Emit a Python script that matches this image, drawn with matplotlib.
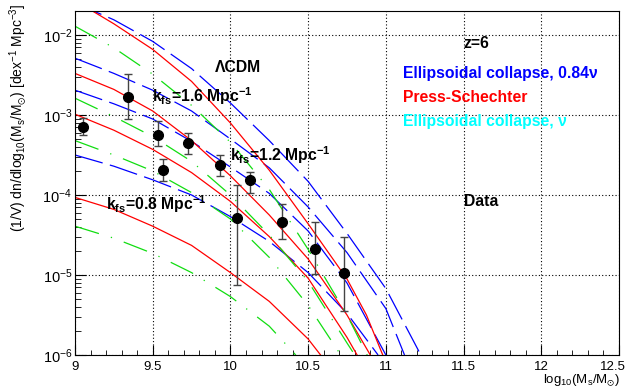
import numpy as np
import matplotlib
matplotlib.use("Agg")
import matplotlib.pyplot as plt
from matplotlib.ticker import LogLocator, NullFormatter, MultipleLocator, FixedLocator, FixedFormatter
from matplotlib.transforms import ScaledTranslation

plt.rcParams['font.family'] = ['Liberation Sans', 'DejaVu Sans']
plt.rcParams['mathtext.fontset'] = 'custom'
plt.rcParams['mathtext.rm'] = 'Liberation Sans'
plt.rcParams['mathtext.bf'] = 'Liberation Sans:bold'
plt.rcParams['mathtext.it'] = 'Liberation Sans:italic'
plt.rcParams['mathtext.default'] = 'regular'

# data points: log10(M), n, lower and upper error bar ends
data_x = [9.05, 9.34, 9.535, 9.563, 9.73, 9.935, 10.043, 10.125, 10.333, 10.544, 10.729]
data_y = [7.1e-4, 1.68e-3, 5.6e-4, 2.04e-4, 4.47e-4, 2.34e-4, 5.2e-5, 1.55e-4, 4.6e-5, 2.14e-5, 1.07e-5]
data_lo = [5.6e-4, 8.9e-4, 4.1e-4, 1.48e-4, 3.3e-4, 1.74e-4, 7.4e-6, 1.07e-4, 2.8e-5, 1.02e-5, 3.5e-6]
data_hi = [9.1e-4, 3.3e-3, 8.3e-4, 2.8e-4, 5.9e-4, 3.2e-4, 1.35e-4, 1.94e-4, 7.8e-5, 4.6e-5, 3.0e-5]

xs = [9.0, 9.25, 9.5, 9.75, 10.0, 10.25, 10.5, 10.75]

# LCDM
ec084_lcdm = (xs + [11.0, 11.225], [-1.60, -1.81, -2.08, -2.42, -2.85, -3.32, -3.83, -4.48, -5.17, -6.0])
ps_lcdm = (xs + [10.875, 10.98], [-1.57, -1.86, -2.18, -2.58, -3.10, -3.69, -4.36, -5.05, -5.50, -6.0])
ec_lcdm = (xs + [10.88], [-1.89, -2.16, -2.49, -2.88, -3.34, -3.93, -4.68, -5.50, -6.0])
# k_fs = 1.6
ec084_16 = (xs + [11.0, 11.12], [-2.29, -2.48, -2.69, -2.95, -3.30, -3.66, -4.15, -4.72, -5.42, -6.0])
ps_16 = (xs + [10.90], [-2.48, -2.68, -2.95, -3.32, -3.76, -4.25, -4.80, -5.50, -6.0])
ec_16 = (xs + [10.80], [-2.79, -3.02, -3.27, -3.58, -4.00, -4.50, -5.08, -5.85, -6.0])
# k_fs = 1.2
ec084_12 = (xs + [11.0], [-2.69, -2.86, -3.05, -3.33, -3.65, -3.98, -4.45, -5.10, -6.0])
ps_12 = (xs + [10.815], [-2.99, -3.19, -3.43, -3.72, -4.08, -4.52, -5.04, -5.78, -6.0])
ec_12 = (xs[:7] + [10.71], [-3.32, -3.50, -3.70, -3.97, -4.30, -4.78, -5.38, -6.0])
# k_fs = 0.8
ec084_08 = (xs + [10.95], [-3.50, -3.64, -3.81, -4.00, -4.27, -4.58, -4.97, -5.48, -6.0])
ps_08 = (xs[:7] + [10.58], [-4.03, -4.18, -4.39, -4.63, -4.97, -5.33, -5.80, -6.0])
ec_08 = (xs[:6] + [10.42], [-4.39, -4.54, -4.73, -4.97, -5.27, -5.64, -6.0])

xticks = [9, 9.5, 10, 10.5, 11, 11.5, 12, 12.5]
xlabels = ['9', '9.5', '10', '10.5', '11', '11.5', '12', '12.5']

BLUE = '#0000ff'
RED = '#ff0000'
GREEN = '#11dd11'

fig = plt.figure(figsize=(6.28, 3.89), dpi=100)
ax = fig.add_axes([75/628, 1-355/389, 544/628, 344/389])

for c in [ec084_lcdm, ec084_16, ec084_12, ec084_08]:
  ax.plot(c[0], np.power(10.0, c[1]), color=BLUE, lw=0.9, linestyle=(0, (23, 6)))
for c in [ps_lcdm, ps_16, ps_12, ps_08]:
  ax.plot(c[0], np.power(10.0, c[1]), color=RED, lw=0.9)
for c in [ec_lcdm, ec_16, ec_12, ec_08]:
  ax.plot(c[0], np.power(10.0, c[1]), color=GREEN, lw=0.9, linestyle=(0, (20, 10, 1, 10)))

dy = np.array(data_y)
yerr = [dy - np.array(data_lo), np.array(data_hi) - dy]
ax.errorbar(data_x, data_y, yerr=yerr, fmt='o', color='black', ms=7,
            ecolor='#444444', elinewidth=1, capsize=3, capthick=1)

ax.set_yscale('log')
ax.set_xlim(9, 12.5)
ax.set_ylim(1e-6, 10**-1.7)

ax.xaxis.set_major_locator(FixedLocator(xticks))
ax.xaxis.set_major_formatter(FixedFormatter(xlabels))
ax.xaxis.set_minor_locator(MultipleLocator(0.1))
ax.yaxis.set_major_locator(LogLocator(base=10, numticks=10))
ax.yaxis.set_minor_locator(LogLocator(base=10, subs=range(2, 10), numticks=20))
ax.yaxis.set_minor_formatter(NullFormatter())

ax.tick_params(axis='both', which='both', direction='in', top=False, right=False)
ax.tick_params(axis='x', which='major', length=7, pad=4, labelsize=9.5)
ax.tick_params(axis='x', which='minor', length=3.5)
ax.tick_params(axis='y', which='major', length=8, pad=2, labelsize=10.5)
ax.tick_params(axis='y', which='minor', length=4)

ax.grid(which='major', linestyle=(0, (1, 2)), color='black', lw=0.8)

# keep the last x label inside the picture
fig.canvas.draw()
last = ax.get_xticklabels()[-1]
last.set_transform(last.get_transform() + ScaledTranslation(-6/100, 0, fig.dpi_scale_trans))

bold = dict(fontweight='bold', fontsize=11.3, va='baseline')
ax.text(9.90, 10**-2.46, u'\u039bCDM', **bold)
ax.text(9.497, 10**-2.84, r'k$_{fs}$=1.6 Mpc$^{-1}$', **bold)
ax.text(10.0, 10**-3.575, r'k$_{fs}$=1.2 Mpc$^{-1}$', **bold)
ax.text(9.20, 10**-4.19, r'k$_{fs}$=0.8 Mpc$^{-1}$', **bold)
ax.text(11.50, 10**-2.16, 'z=6', **bold)
ax.text(11.108, 10**-2.54, u'Ellipsoidal collapse, 0.84\u03bd', color=BLUE, **bold)
ax.text(11.108, 10**-2.84, 'Press-Schechter', color=RED, **bold)
ax.text(11.108, 10**-3.14, u'Ellipsoidal collapse, \u03bd', color='#00ffff', **bold)
ax.text(11.503, 10**-4.14, 'Data', **bold)

fig.text(0.029, 0.992, r'(1/V) dn/dlog$_{10}$(M$_{s}$/M$_{\odot}$) [dex$^{-1}$ Mpc$^{-3}$]',
         rotation=90, ha='center', va='top', fontsize=10)
fig.text(0.987, 1-372/389, r'log$_{10}$(M$_{s}$/M$_{\odot}$)', ha='right', va='top', fontsize=9.5)

fig.savefig('out.png', dpi=100)
